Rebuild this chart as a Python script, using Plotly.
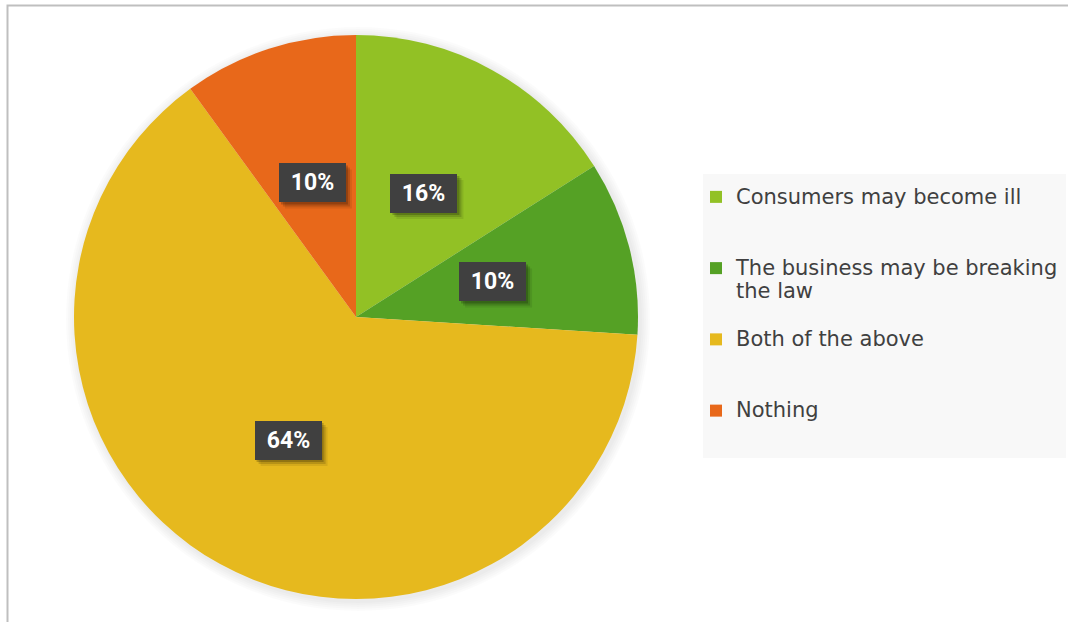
import math
import plotly.graph_objects as go

# Survey answers and their shares (percent)
categories = [
    "Consumers may become ill",
    "The business may be breaking the law",
    "Both of the above",
    "Nothing",
]
legend_lines = [
    ["Consumers may become ill"],
    ["The business may be breaking", "the law"],
    ["Both of the above"],
    ["Nothing"],
]
shares = [16, 10, 64, 10]
colors = ["#92C125", "#55A125", "#E6B91E", "#E8681A"]

W, H = 1068, 622
CX, CY, R = 356, 317, 282          # pie centre and radius in pixels
LEGEND_FONT = 21
BASE_FONT = 17.5                   # sets the legend line pitch
LINES_PER_ENTRY = 3
BOX_W, BOX_H = 67, 39              # data-label box size in pixels


def legend_name(lines):
    """Legend text: each visible line at full size, padded to a fixed line count."""
    styled = [f"<span style='font-size:{LEGEND_FONT}px'>{t}</span>" for t in lines]
    styled += ["\u00a0"] * (LINES_PER_ENTRY - len(lines))
    return "<br>".join(styled)


names = [legend_name(l) for l in legend_lines]

fig = go.Figure()
fig.add_trace(go.Pie(
    labels=names,
    values=shares,
    customdata=categories,
    sort=False,
    direction="clockwise",
    rotation=0,
    marker=dict(colors=colors, line=dict(width=0)),
    textinfo="none",
    hovertemplate="%{customdata}: %{value}%<extra></extra>",
    domain=dict(x=[(CX - R) / W, (CX + R) / W],
                y=[1 - (CY + R) / H, 1 - (CY - R) / H]),
))

shapes = [
    # chart frame
    dict(type="rect", xref="paper", yref="paper",
         x0=7.5 / W, x1=1.05, y0=-0.05, y1=1 - 5.5 / H,
         line=dict(color="#BFBFBF", width=2), fillcolor="rgba(0,0,0,0)",
         layer="below"),
    # legend panel
    dict(type="rect", xref="paper", yref="paper",
         x0=703 / W, x1=1066 / W, y0=1 - 458 / H, y1=1 - 174 / H,
         line=dict(width=0), fillcolor="#F8F8F8", layer="below"),
]
# soft halo behind the pie
for k in range(1, 6):
    r = R + 2 * k
    shapes.append(dict(type="circle", xref="paper", yref="paper",
                       x0=(CX - r + 2) / W, x1=(CX + r + 2) / W,
                       y0=1 - (CY + r + 2) / H, y1=1 - (CY - r + 2) / H,
                       line=dict(width=0), fillcolor="rgba(0,0,0,0.014)",
                       layer="below"))

# Data labels: dark boxes with a drop shadow, placed half-way out on each slice
total = sum(shares)
annotations = []
cum = 0
for v in shares:
    theta = 2 * math.pi * (cum + v / 2) / total
    cum += v
    px = CX + 0.5 * R * math.sin(theta)
    py = CY - 0.5 * R * math.cos(theta)
    ax, ay = px / W, 1 - py / H
    for shift, alpha in ((6, 0.08), (4, 0.14), (2, 0.20)):
        shapes.append(dict(type="rect", xref="paper", yref="paper",
                           xsizemode="pixel", ysizemode="pixel",
                           xanchor=ax, yanchor=ay,
                           x0=-BOX_W / 2 + shift, x1=BOX_W / 2 + shift,
                           y0=-BOX_H / 2 - shift, y1=BOX_H / 2 - shift,
                           line=dict(width=0),
                           fillcolor=f"rgba(0,0,0,{alpha})", layer="above"))
    annotations.append(dict(
        x=ax, y=ay, xref="paper", yref="paper",
        text=f"{round(100 * v / total)}%", showarrow=False,
        width=BOX_W - 10, height=BOX_H - 10, borderpad=5, borderwidth=0,
        xanchor="center", yanchor="middle", bgcolor="#404040",
        font=dict(color="white", size=23, family="Roboto", weight="bold"),
    ))

fig.update_layout(
    width=W, height=H,
    margin=dict(l=0, r=0, t=0, b=0),
    paper_bgcolor="white",
    plot_bgcolor="white",
    showlegend=True,
    legend=dict(
        x=696 / W, y=1 - 179 / H, xanchor="left", yanchor="top",
        bgcolor="rgba(0,0,0,0)", borderwidth=0,
        valign="top",
        font=dict(family="DejaVu Sans", size=BASE_FONT, color="#404040"),
    ),
    annotations=annotations,
    shapes=shapes,
)

fig.write_html("out.html")
